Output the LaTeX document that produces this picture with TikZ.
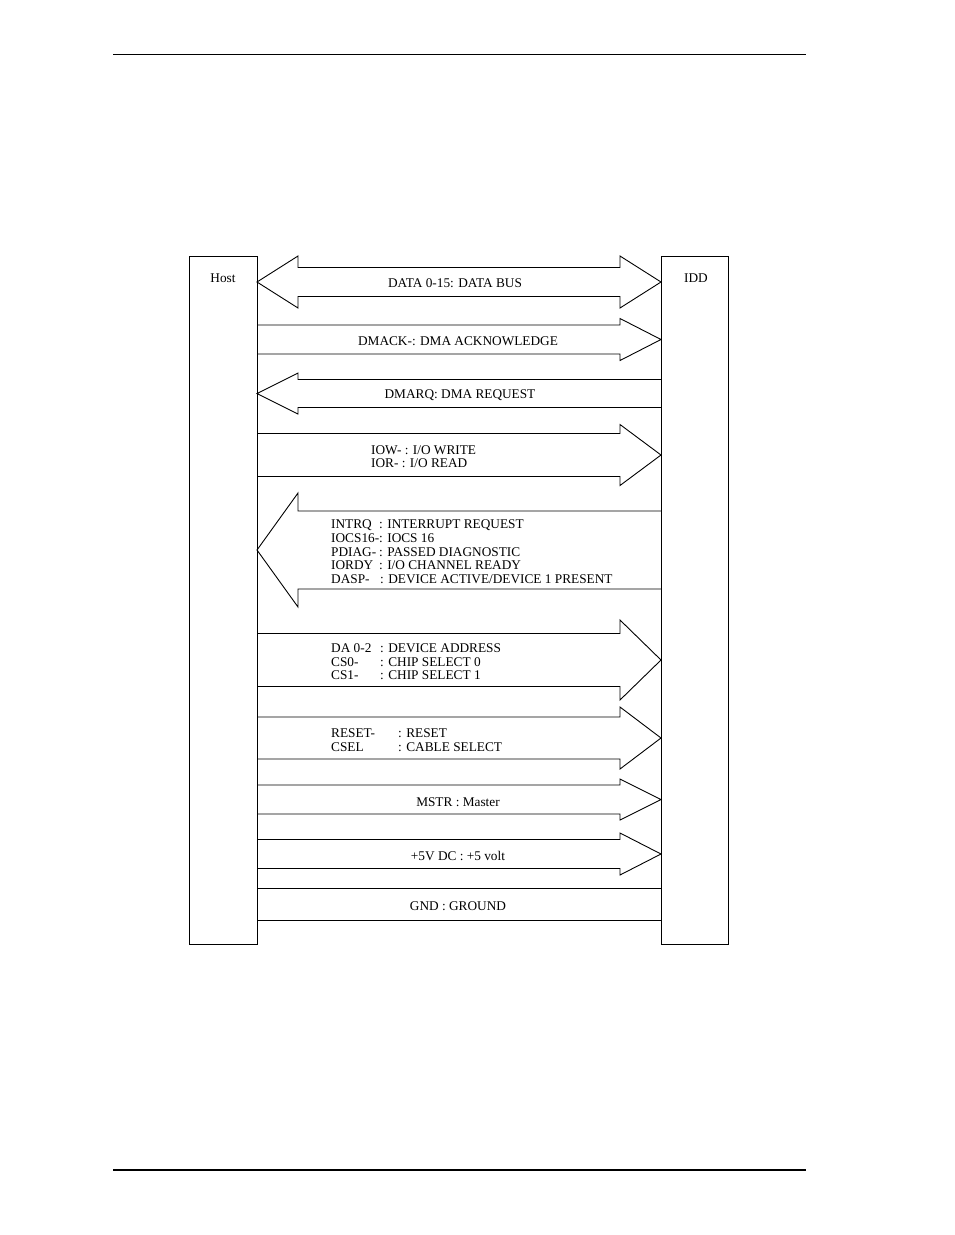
\documentclass[tikz,border=0pt]{standalone}
\usepackage{fontspec}
\setmainfont{Liberation Serif}
\begin{document}
\begin{tikzpicture}[x=1pt,y=-1pt,
  boxline/.style={line width=1.4pt},
  arr/.style={line width=0.9pt, line join=miter},
  lbl/.style={inner sep=0pt, font=\fontsize{13.3}{13.7}\selectfont, yshift=-1.3pt},
  lblw/.style={lbl, anchor=west, align=left}]
\useasboundingbox (0,0) rectangle (954,1235);
% page rules
\coordinate (rt1) at (113,54); \coordinate (rt2) at (806,54);
\coordinate (rb1) at (113,1170); \coordinate (rb2) at (806,1170);
\draw[line width=1pt] (rt1) -- (rt2);
\draw[line width=2pt] (rb1) -- (rb2);
% boxes
\node[boxline, draw, minimum width=68pt, minimum height=688pt, inner sep=0pt, anchor=north west] (host) at (189,256) {};
\node[boxline, draw, minimum width=67pt, minimum height=688pt, inner sep=0pt, anchor=north west] (idd) at (661,256) {};
\node[lbl] (hostlbl) at (223,277) {Host};
\node[lbl] (iddlbl) at (696,277) {IDD};
% arrows: #1 centre y, #2 shaft half height, #3 head half height
\newcommand\RArrow[3]{\draw[arr] (257,{#1-#2}) -- (620,{#1-#2}) -- (620,{#1-#3}) -- (661,#1) -- (620,{#1+#3}) -- (620,{#1+#2}) -- (257,{#1+#2});}
\newcommand\LArrow[3]{\draw[arr] (661,{#1-#2}) -- (298,{#1-#2}) -- (298,{#1-#3}) -- (257,#1) -- (298,{#1+#3}) -- (298,{#1+#2}) -- (661,{#1+#2});}
% DATA bidirectional
\draw[arr] (298,{282-14.5}) -- (620,{282-14.5}) -- (620,{282-26}) -- (661,282) -- (620,{282+26}) -- (620,{282+14.5}) -- (298,{282+14.5}) -- (298,{282+26}) -- (257,282) -- (298,{282-26}) -- cycle;
\node[lbl] (data) at (455,282) {DATA 0-15: DATA BUS};
\RArrow{339.5}{14.5}{21}
\node[lbl] (dmack) at (458,340) {DMACK-: DMA ACKNOWLEDGE};
\LArrow{393.5}{14}{20.5}
\node[lbl] (dmarq) at (460,394) {DMARQ: DMA REQUEST};
\RArrow{455}{21.5}{30.5}
\node[lblw] (iow) at (371,455.5) {IOW- : I/O WRITE\\IOR- : I/O READ};
\LArrow{550}{39}{57}
\node[lblw] (intrq) at (331,550.5) {\makebox[48pt][l]{INTRQ}: INTERRUPT REQUEST\\
\makebox[48pt][l]{IOCS16-}: IOCS 16\\
\makebox[48pt][l]{PDIAG-}: PASSED DIAGNOSTIC\\
\makebox[48pt][l]{IORDY}: I/O CHANNEL READY\\
\makebox[49pt][l]{DASP-}: DEVICE ACTIVE/DEVICE 1 PRESENT};
\RArrow{660}{26.5}{40}
\node[lblw] (da) at (331,660.5) {\makebox[49pt][l]{DA 0-2}: DEVICE ADDRESS\\
\makebox[49pt][l]{CS0-}: CHIP SELECT 0\\
\makebox[49pt][l]{CS1-}: CHIP SELECT 1};
\RArrow{738}{21}{31}
\node[lblw] (reset) at (331,739) {\makebox[67pt][l]{RESET-}: RESET\\
\makebox[67pt][l]{CSEL}: CABLE SELECT};
\RArrow{799.5}{14.5}{20.5}
\node[lbl] (mstr) at (458,801) {MSTR : Master};
\RArrow{854}{14.5}{21}
\node[lbl] (pwr) at (458,855) {+5V DC : +5 volt};
% GND
\draw[arr] (257,888) -- (661,888);
\draw[arr] (257,920) -- (661,920);
\node[lbl] (gnd) at (458,905) {GND : GROUND};
\end{tikzpicture}
\end{document}
